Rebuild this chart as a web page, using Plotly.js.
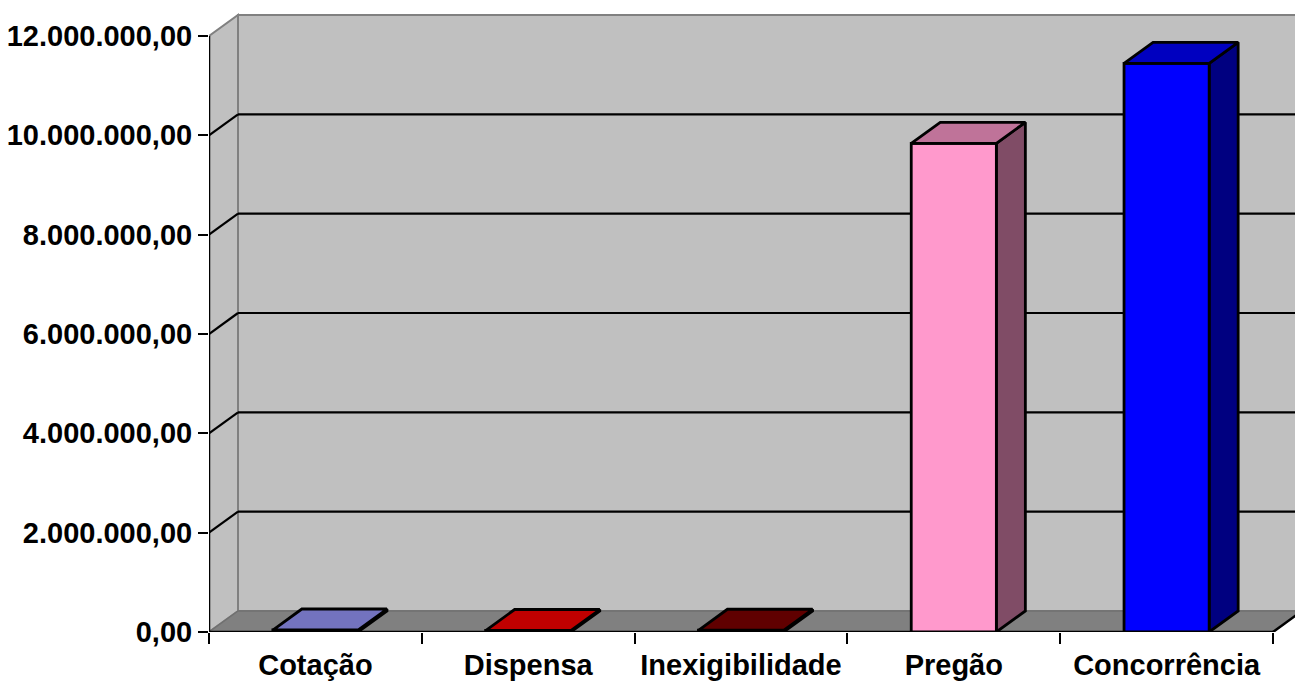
<!DOCTYPE html>
<html>
<head>
<meta charset="utf-8">
<script src="https://cdn.plot.ly/plotly-3.0.1.min.js"></script>
<style>html,body{margin:0;padding:0;background:#fff;}#chart{width:1295px;height:686px;}</style>
</head>
<body>
<div id="chart"></div>
<script>
// ---- data ----
const categories = ['Cotação', 'Dispensa', 'Inexigibilidade', 'Pregão', 'Concorrência'];
const values = [40000, 30000, 35000, 9840000, 11450000];
const frontColors = ['#9999FF', '#FF0000', '#800000', '#FF99CC', '#0000FF'];
const topColors   = ['#7373BF', '#C00000', '#600000', '#BF7399', '#0000C0'];
const sideColors  = ['#4C4C80', '#800000', '#400000', '#804C66', '#000080'];
const yTicks = [0, 2000000, 4000000, 6000000, 8000000, 10000000, 12000000];

// ---- geometry (styling) ----
const W = 1295, H = 686;
const M = {l: 209, r: 0, t: 0, b: 54};
const plotW = W - M.l - M.r, plotH = H - M.t - M.b;
const catPx = 212.8;                 // pixels per category
const xMax = plotW / catPx;
const yTop = yTicks[yTicks.length - 1];
const yPerPx = yTop / 596;           // value units per pixel
const yMax = plotH * yPerPx;
const DX = 29 / catPx;               // depth offset (x)
const DY = 21 * yPerPx;              // depth offset (y)
const halfW = 0.2;
const nCat = categories.length;
const FONT = 'Liberation Sans, Arial, sans-serif';

// ---- walls, floor, gridlines ----
const shapes = [];
const wallLine = {color: '#808080', width: 2};
shapes.push({type: 'rect', xref: 'x', yref: 'y', layer: 'below',
  x0: DX, x1: xMax + 1, y0: DY, y1: yTop + DY, fillcolor: '#C0C0C0', line: wallLine});
shapes.push({type: 'path', xref: 'x', yref: 'y', layer: 'below',
  path: `M 0,0 L ${DX},${DY} L ${DX},${yTop + DY} L 0,${yTop} Z`, fillcolor: '#C0C0C0', line: wallLine});
shapes.push({type: 'path', xref: 'x', yref: 'y', layer: 'below',
  path: `M 0,0 L ${nCat},0 L ${nCat + DX},${DY} L ${DX},${DY} Z`, fillcolor: '#808080', line: {color: '#707070', width: 1.5}});
yTicks.slice(1, -1).forEach(v => {
  shapes.push({type: 'line', xref: 'x', yref: 'y', layer: 'below',
    x0: DX, x1: xMax + 1, y0: v + DY, y1: v + DY, line: {color: '#000', width: 2.2}});
  shapes.push({type: 'line', xref: 'x', yref: 'y', layer: 'below',
    x0: 0, x1: DX, y0: v, y1: v + DY, line: {color: '#000', width: 2.2}});
});
// axis lines
shapes.push({type: 'line', xref: 'x', yref: 'y', layer: 'above',
  x0: 0, x1: 0, y0: 0, y1: yTop, line: {color: '#000', width: 2.5}});
shapes.push({type: 'line', xref: 'x', yref: 'y', layer: 'below',
  x0: 0, x1: nCat, y0: 0, y1: 0, line: {color: '#000', width: 2.5}});
shapes.push({type: 'line', xref: 'x', yref: 'y', layer: 'below',
  x0: nCat, x1: nCat + DX, y0: 0, y1: DY, line: {color: '#000', width: 2.5}});

// ---- 3D bars ----
const traces = [];
function face(xs, ys, color) {
  traces.push({type: 'scatter', mode: 'lines', x: xs.concat([xs[0]]), y: ys.concat([ys[0]]),
    fill: 'toself', fillcolor: color, line: {color: '#000', width: 2.8},
    hoverinfo: 'skip', showlegend: false});
}
values.forEach((v, i) => {
  const x0 = i + 0.5 - halfW, x1 = i + 0.5 + halfW;
  face([x1, x1 + DX, x1 + DX, x1], [0, DY, v + DY, v], sideColors[i]);
  face([x0, x1, x1, x0], [0, 0, v, v], frontColors[i]);
  face([x0, x1, x1 + DX, x0 + DX], [v, v, v + DY, v + DY], topColors[i]);
});

const layout = {
  width: W, height: H, margin: M,
  paper_bgcolor: '#fff', plot_bgcolor: '#fff',
  separators: ',.',
  showlegend: false,
  xaxis: {
    range: [0, xMax], fixedrange: true,
    tickmode: 'array', tickvals: categories.map((c, i) => i + 0.5), ticktext: categories,
    ticks: '', showline: false, showgrid: false, zeroline: false,
    ticklabelstandoff: 13,
    tickfont: {family: FONT, size: 29, color: '#000', weight: 700},
    minor: {tickmode: 'array', tickvals: categories.map((c, i) => i).concat([nCat]),
      ticks: 'outside', ticklen: 11, tickwidth: 2, tickcolor: '#000', showgrid: false}
  },
  yaxis: {
    range: [0, yMax], fixedrange: true,
    tickmode: 'array', tickvals: yTicks, tickformat: ',.2f',
    ticks: 'outside', ticklen: 10, tickwidth: 2, tickcolor: '#000',
    showline: false, showgrid: false, zeroline: false,
    tickfont: {family: FONT, size: 29, color: '#000', weight: 700}
  },
  shapes: shapes
};

Plotly.newPlot('chart', traces, layout, {displayModeBar: false, staticPlot: true});
</script>
</body>
</html>
